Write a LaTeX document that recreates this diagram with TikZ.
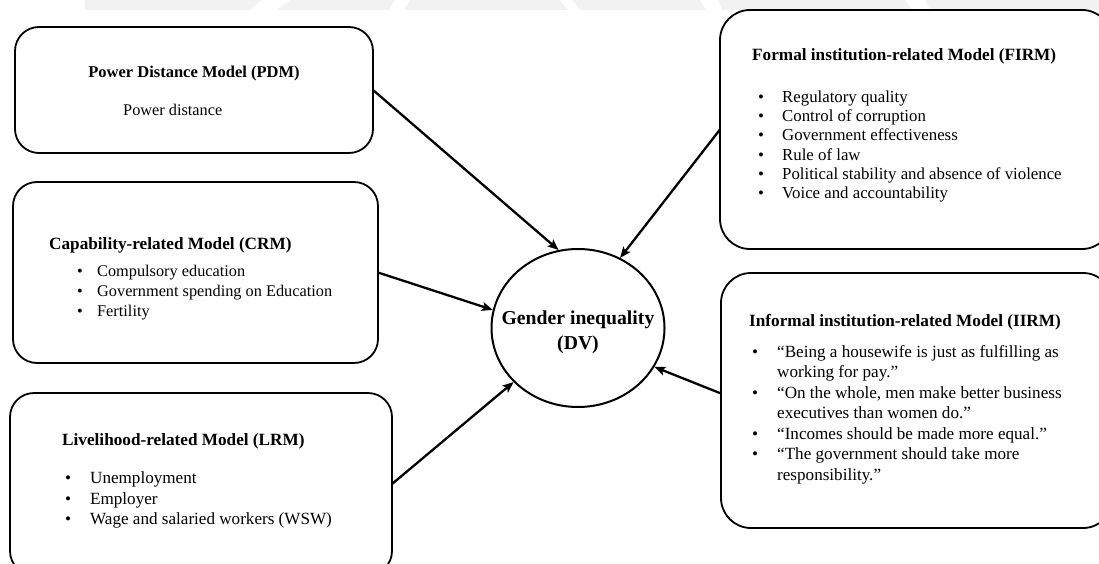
\documentclass[tikz,border=0pt]{standalone}
\usepackage{fontspec}
\setmainfont{Liberation Serif}
\usetikzlibrary{arrows.meta,shapes.geometric}

% bullet followed by a fixed hanging gap
\newcommand\bul[1]{\makebox[#1][l]{\textbullet}}

\tikzset{
  modelbox/.style={draw, line width=1.8pt, rounded corners=24pt, anchor=north west,
                   inner sep=0pt, outer sep=0pt},
  boxtitle/.style={anchor=base west, inner sep=0pt, font=\fontsize{17.2}{20}\selectfont\bfseries},
  boxline/.style={anchor=base west, inner sep=0pt, font=\fontsize{16.3}{20}\selectfont},
  boxlist/.style={anchor=north west, inner sep=0pt, align=left, font=\fontsize{16.3}{20}\selectfont},
  flow/.style={-{Stealth[length=11pt,width=9pt,inset=2.5pt]}, line width=2.3pt},
  mark band/.style={fill=gray!10, draw=none},
}

\begin{document}
\begin{tikzpicture}[x=1pt,y=-1pt]
\useasboundingbox (0,0) rectangle (1099,564);
\clip (0,0) rectangle (1099,564);

% faint strip along the top edge
\fill[mark band] (85,0) rectangle (1099,10);
\fill[white] (262,0) -- (290,0) -- (276,10) -- (250,10) -- cycle;
\fill[white] (395,0) -- (410,0) -- (404,10) -- (389,10) -- cycle;
\fill[white] (560,0) -- (572,0) -- (580,10) -- (568,10) -- cycle;
\fill[white] (700,0) -- (718,0) -- (722,10) -- (706,10) -- cycle;
\fill[white] (905,0) -- (925,0) -- (930,10) -- (912,10) -- cycle;

% model boxes
\node[modelbox, minimum width=358pt, minimum height=126pt] (pdm) at (15,27) {};
\node[modelbox, minimum width=365pt, minimum height=181pt] (crm) at (13,182) {};
\node[modelbox, minimum width=382pt, minimum height=182pt] (lrm) at (10,393) {};
\node[modelbox, rounded corners=30pt, minimum width=392pt, minimum height=239pt] (firm) at (720,10) {};
\node[modelbox, rounded corners=30pt, minimum width=392pt, minimum height=255pt] (iirm) at (721,273) {};

% dependent variable
\node[draw, ellipse, line width=2pt, minimum width=173pt, minimum height=158pt, inner sep=0pt] (dv) at (578,328) {};
\node[align=center, inner sep=0pt, font=\fontsize{19.7}{25}\selectfont\bfseries] (dvtext) at (578,332) {Gender inequality\\(DV)};

% box contents
\node[boxtitle, anchor=base, font=\fontsize{16.5}{20}\selectfont\bfseries] (pdmt) at (194,78) {Power Distance Model (PDM)};
\node[boxline] (pdmi) at (123,116) {Power distance};

\node[boxtitle] (crmt) at (49,249) {Capability-related Model (CRM)};
\node[boxlist] (crml) at (77,262) {\strut\bul{20pt}Compulsory education\\
  \bul{20pt}Government spending on Education\\
  \bul{20pt}Fertility};

\node[boxtitle] (lrmt) at (62,445) {Livelihood-related Model (LRM)};
\node[boxlist, font=\fontsize{17.1}{20.5}\selectfont] (lrml) at (65,469) {\strut\bul{25pt}Unemployment\\
  \bul{25pt}Employer\\
  \bul{25pt}Wage and salaried workers (WSW)};

\node[boxtitle] (firmt) at (752,61) {Formal institution-related Model (FIRM)};
\node[boxlist, font=\fontsize{16.8}{19.3}\selectfont] (firml) at (758,88.5) {\strut\bul{24pt}Regulatory quality\\
  \bul{24pt}Control of corruption\\
  \bul{24pt}Government effectiveness\\
  \bul{24pt}Rule of law\\
  \bul{24pt}Political stability and absence of violence\\
  \bul{24pt}Voice and accountability};

\node[boxtitle] (iirmt) at (749,326) {Informal institution-related Model (IIRM)};
\node[boxlist, font=\fontsize{17.1}{20.5}\selectfont] (iirml) at (752,342.6) {\strut\bul{25pt}``Being a housewife is just as fulfilling as\\
  \hspace*{25pt}working for pay.''\\
  \bul{25pt}``On the whole, men make better business\\
  \hspace*{25pt}executives than women do.''\\
  \bul{25pt}``Incomes should be made more equal.''\\
  \bul{25pt}``The government should take more\\
  \hspace*{25pt}responsibility.''};

% connectors
\draw[flow] (pdm.east) -- (dv.104);
\draw[flow] (firm.west) -- (dv.59);
\draw[flow] (crm.east) -- (dv.168);
\draw[flow] (lrm.east) -- (dv.220);
\draw[flow] ([yshift=7pt]iirm.west) -- (dv.333);
\end{tikzpicture}
\end{document}
